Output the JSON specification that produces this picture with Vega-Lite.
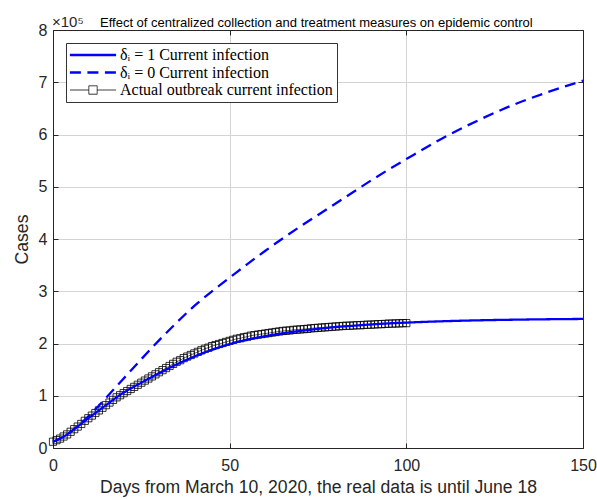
{
  "$schema": "https://vega.github.io/schema/vega-lite/v6.json",
  "width": 530,
  "height": 418,
  "autosize": "none",
  "padding": {"left": 53, "top": 30, "right": 14, "bottom": 52},
  "background": "white",
  "title": {
    "text": "Effect of centralized collection and treatment measures on epidemic control",
    "anchor": "start",
    "frame": "group",
    "fontSize": 13,
    "fontWeight": "normal",
    "font": "Liberation Sans",
    "color": "#000000",
    "offset": -14.5,
    "dx": 47
  },
  "datasets": {
    "model": [
      {"day": 0, "cases": 12000, "series": "δᵢ = 1 Current infection"},
      {"day": 2, "cases": 18000, "series": "δᵢ = 1 Current infection"},
      {"day": 4, "cases": 26000, "series": "δᵢ = 1 Current infection"},
      {"day": 6, "cases": 36000, "series": "δᵢ = 1 Current infection"},
      {"day": 8, "cases": 46500, "series": "δᵢ = 1 Current infection"},
      {"day": 10, "cases": 57000, "series": "δᵢ = 1 Current infection"},
      {"day": 12, "cases": 67000, "series": "δᵢ = 1 Current infection"},
      {"day": 15, "cases": 82000, "series": "δᵢ = 1 Current infection"},
      {"day": 18, "cases": 97000, "series": "δᵢ = 1 Current infection"},
      {"day": 20, "cases": 106000, "series": "δᵢ = 1 Current infection"},
      {"day": 25, "cases": 125000, "series": "δᵢ = 1 Current infection"},
      {"day": 30, "cases": 143000, "series": "δᵢ = 1 Current infection"},
      {"day": 35, "cases": 160000, "series": "δᵢ = 1 Current infection"},
      {"day": 40, "cases": 175000, "series": "δᵢ = 1 Current infection"},
      {"day": 45, "cases": 188000, "series": "δᵢ = 1 Current infection"},
      {"day": 50, "cases": 199000, "series": "δᵢ = 1 Current infection"},
      {"day": 55, "cases": 207500, "series": "δᵢ = 1 Current infection"},
      {"day": 60, "cases": 214000, "series": "δᵢ = 1 Current infection"},
      {"day": 65, "cases": 219500, "series": "δᵢ = 1 Current infection"},
      {"day": 70, "cases": 224000, "series": "δᵢ = 1 Current infection"},
      {"day": 75, "cases": 228000, "series": "δᵢ = 1 Current infection"},
      {"day": 80, "cases": 231500, "series": "δᵢ = 1 Current infection"},
      {"day": 85, "cases": 234000, "series": "δᵢ = 1 Current infection"},
      {"day": 90, "cases": 236500, "series": "δᵢ = 1 Current infection"},
      {"day": 95, "cases": 238500, "series": "δᵢ = 1 Current infection"},
      {"day": 100, "cases": 240000, "series": "δᵢ = 1 Current infection"},
      {"day": 110, "cases": 242500, "series": "δᵢ = 1 Current infection"},
      {"day": 120, "cases": 244300, "series": "δᵢ = 1 Current infection"},
      {"day": 130, "cases": 245500, "series": "δᵢ = 1 Current infection"},
      {"day": 140, "cases": 246400, "series": "δᵢ = 1 Current infection"},
      {"day": 150, "cases": 247000, "series": "δᵢ = 1 Current infection"},
      {"day": 0, "cases": 12000, "series": "δᵢ = 0 Current infection"},
      {"day": 2, "cases": 18000, "series": "δᵢ = 0 Current infection"},
      {"day": 4, "cases": 26000, "series": "δᵢ = 0 Current infection"},
      {"day": 6, "cases": 36500, "series": "δᵢ = 0 Current infection"},
      {"day": 8, "cases": 48000, "series": "δᵢ = 0 Current infection"},
      {"day": 10, "cases": 60000, "series": "δᵢ = 0 Current infection"},
      {"day": 12, "cases": 74000, "series": "δᵢ = 0 Current infection"},
      {"day": 15, "cases": 96000, "series": "δᵢ = 0 Current infection"},
      {"day": 20, "cases": 133000, "series": "δᵢ = 0 Current infection"},
      {"day": 25, "cases": 170000, "series": "δᵢ = 0 Current infection"},
      {"day": 30, "cases": 206000, "series": "δᵢ = 0 Current infection"},
      {"day": 35, "cases": 240000, "series": "δᵢ = 0 Current infection"},
      {"day": 40, "cases": 272000, "series": "δᵢ = 0 Current infection"},
      {"day": 45, "cases": 300000, "series": "δᵢ = 0 Current infection"},
      {"day": 50, "cases": 326000, "series": "δᵢ = 0 Current infection"},
      {"day": 55, "cases": 352000, "series": "δᵢ = 0 Current infection"},
      {"day": 60, "cases": 377000, "series": "δᵢ = 0 Current infection"},
      {"day": 65, "cases": 401000, "series": "δᵢ = 0 Current infection"},
      {"day": 70, "cases": 424000, "series": "δᵢ = 0 Current infection"},
      {"day": 75, "cases": 446000, "series": "δᵢ = 0 Current infection"},
      {"day": 80, "cases": 468000, "series": "δᵢ = 0 Current infection"},
      {"day": 85, "cases": 490000, "series": "δᵢ = 0 Current infection"},
      {"day": 90, "cases": 512000, "series": "δᵢ = 0 Current infection"},
      {"day": 95, "cases": 533000, "series": "δᵢ = 0 Current infection"},
      {"day": 100, "cases": 553000, "series": "δᵢ = 0 Current infection"},
      {"day": 110, "cases": 592000, "series": "δᵢ = 0 Current infection"},
      {"day": 120, "cases": 626000, "series": "δᵢ = 0 Current infection"},
      {"day": 130, "cases": 656000, "series": "δᵢ = 0 Current infection"},
      {"day": 140, "cases": 681000, "series": "δᵢ = 0 Current infection"},
      {"day": 150, "cases": 703000, "series": "δᵢ = 0 Current infection"}
    ],
    "actual": [
      {"day": 0, "cases": 12000, "series": "Actual outbreak current infection"},
      {"day": 1, "cases": 15000, "series": "Actual outbreak current infection"},
      {"day": 2, "cases": 18000, "series": "Actual outbreak current infection"},
      {"day": 3, "cases": 22000, "series": "Actual outbreak current infection"},
      {"day": 4, "cases": 26000, "series": "Actual outbreak current infection"},
      {"day": 5, "cases": 31000, "series": "Actual outbreak current infection"},
      {"day": 6, "cases": 36000, "series": "Actual outbreak current infection"},
      {"day": 7, "cases": 41000, "series": "Actual outbreak current infection"},
      {"day": 8, "cases": 46000, "series": "Actual outbreak current infection"},
      {"day": 9, "cases": 52000, "series": "Actual outbreak current infection"},
      {"day": 10, "cases": 57000, "series": "Actual outbreak current infection"},
      {"day": 11, "cases": 62000, "series": "Actual outbreak current infection"},
      {"day": 12, "cases": 67000, "series": "Actual outbreak current infection"},
      {"day": 13, "cases": 72000, "series": "Actual outbreak current infection"},
      {"day": 14, "cases": 77000, "series": "Actual outbreak current infection"},
      {"day": 15, "cases": 82000, "series": "Actual outbreak current infection"},
      {"day": 16, "cases": 87000, "series": "Actual outbreak current infection"},
      {"day": 17, "cases": 92000, "series": "Actual outbreak current infection"},
      {"day": 18, "cases": 97000, "series": "Actual outbreak current infection"},
      {"day": 19, "cases": 101000, "series": "Actual outbreak current infection"},
      {"day": 20, "cases": 105000, "series": "Actual outbreak current infection"},
      {"day": 21, "cases": 109000, "series": "Actual outbreak current infection"},
      {"day": 22, "cases": 113000, "series": "Actual outbreak current infection"},
      {"day": 23, "cases": 117000, "series": "Actual outbreak current infection"},
      {"day": 24, "cases": 121000, "series": "Actual outbreak current infection"},
      {"day": 25, "cases": 125000, "series": "Actual outbreak current infection"},
      {"day": 26, "cases": 129000, "series": "Actual outbreak current infection"},
      {"day": 27, "cases": 133000, "series": "Actual outbreak current infection"},
      {"day": 28, "cases": 137000, "series": "Actual outbreak current infection"},
      {"day": 29, "cases": 141000, "series": "Actual outbreak current infection"},
      {"day": 30, "cases": 145000, "series": "Actual outbreak current infection"},
      {"day": 31, "cases": 149000, "series": "Actual outbreak current infection"},
      {"day": 32, "cases": 153000, "series": "Actual outbreak current infection"},
      {"day": 33, "cases": 157000, "series": "Actual outbreak current infection"},
      {"day": 34, "cases": 161000, "series": "Actual outbreak current infection"},
      {"day": 35, "cases": 165000, "series": "Actual outbreak current infection"},
      {"day": 36, "cases": 168000, "series": "Actual outbreak current infection"},
      {"day": 37, "cases": 172000, "series": "Actual outbreak current infection"},
      {"day": 38, "cases": 175000, "series": "Actual outbreak current infection"},
      {"day": 39, "cases": 178000, "series": "Actual outbreak current infection"},
      {"day": 40, "cases": 181000, "series": "Actual outbreak current infection"},
      {"day": 41, "cases": 184000, "series": "Actual outbreak current infection"},
      {"day": 42, "cases": 187000, "series": "Actual outbreak current infection"},
      {"day": 43, "cases": 190000, "series": "Actual outbreak current infection"},
      {"day": 44, "cases": 192000, "series": "Actual outbreak current infection"},
      {"day": 45, "cases": 195000, "series": "Actual outbreak current infection"},
      {"day": 46, "cases": 197000, "series": "Actual outbreak current infection"},
      {"day": 47, "cases": 199000, "series": "Actual outbreak current infection"},
      {"day": 48, "cases": 201000, "series": "Actual outbreak current infection"},
      {"day": 49, "cases": 203000, "series": "Actual outbreak current infection"},
      {"day": 50, "cases": 205000, "series": "Actual outbreak current infection"},
      {"day": 51, "cases": 207000, "series": "Actual outbreak current infection"},
      {"day": 52, "cases": 209000, "series": "Actual outbreak current infection"},
      {"day": 53, "cases": 210000, "series": "Actual outbreak current infection"},
      {"day": 54, "cases": 212000, "series": "Actual outbreak current infection"},
      {"day": 55, "cases": 213000, "series": "Actual outbreak current infection"},
      {"day": 56, "cases": 215000, "series": "Actual outbreak current infection"},
      {"day": 57, "cases": 216000, "series": "Actual outbreak current infection"},
      {"day": 58, "cases": 217000, "series": "Actual outbreak current infection"},
      {"day": 59, "cases": 218000, "series": "Actual outbreak current infection"},
      {"day": 60, "cases": 219000, "series": "Actual outbreak current infection"},
      {"day": 61, "cases": 220000, "series": "Actual outbreak current infection"},
      {"day": 62, "cases": 221000, "series": "Actual outbreak current infection"},
      {"day": 63, "cases": 222000, "series": "Actual outbreak current infection"},
      {"day": 64, "cases": 223000, "series": "Actual outbreak current infection"},
      {"day": 65, "cases": 224000, "series": "Actual outbreak current infection"},
      {"day": 66, "cases": 224500, "series": "Actual outbreak current infection"},
      {"day": 67, "cases": 225000, "series": "Actual outbreak current infection"},
      {"day": 68, "cases": 226000, "series": "Actual outbreak current infection"},
      {"day": 69, "cases": 226500, "series": "Actual outbreak current infection"},
      {"day": 70, "cases": 227000, "series": "Actual outbreak current infection"},
      {"day": 71, "cases": 227500, "series": "Actual outbreak current infection"},
      {"day": 72, "cases": 228000, "series": "Actual outbreak current infection"},
      {"day": 73, "cases": 229000, "series": "Actual outbreak current infection"},
      {"day": 74, "cases": 229500, "series": "Actual outbreak current infection"},
      {"day": 75, "cases": 230000, "series": "Actual outbreak current infection"},
      {"day": 76, "cases": 230500, "series": "Actual outbreak current infection"},
      {"day": 77, "cases": 231000, "series": "Actual outbreak current infection"},
      {"day": 78, "cases": 231500, "series": "Actual outbreak current infection"},
      {"day": 79, "cases": 232000, "series": "Actual outbreak current infection"},
      {"day": 80, "cases": 232500, "series": "Actual outbreak current infection"},
      {"day": 81, "cases": 233000, "series": "Actual outbreak current infection"},
      {"day": 82, "cases": 233500, "series": "Actual outbreak current infection"},
      {"day": 83, "cases": 234000, "series": "Actual outbreak current infection"},
      {"day": 84, "cases": 234000, "series": "Actual outbreak current infection"},
      {"day": 85, "cases": 234500, "series": "Actual outbreak current infection"},
      {"day": 86, "cases": 235000, "series": "Actual outbreak current infection"},
      {"day": 87, "cases": 235000, "series": "Actual outbreak current infection"},
      {"day": 88, "cases": 235500, "series": "Actual outbreak current infection"},
      {"day": 89, "cases": 236000, "series": "Actual outbreak current infection"},
      {"day": 90, "cases": 236000, "series": "Actual outbreak current infection"},
      {"day": 91, "cases": 236500, "series": "Actual outbreak current infection"},
      {"day": 92, "cases": 237000, "series": "Actual outbreak current infection"},
      {"day": 93, "cases": 237000, "series": "Actual outbreak current infection"},
      {"day": 94, "cases": 237500, "series": "Actual outbreak current infection"},
      {"day": 95, "cases": 238000, "series": "Actual outbreak current infection"},
      {"day": 96, "cases": 238000, "series": "Actual outbreak current infection"},
      {"day": 97, "cases": 238500, "series": "Actual outbreak current infection"},
      {"day": 98, "cases": 238500, "series": "Actual outbreak current infection"},
      {"day": 99, "cases": 239000, "series": "Actual outbreak current infection"},
      {"day": 100, "cases": 239000, "series": "Actual outbreak current infection"}
    ]
  },
  "layer": [
    {
      "data": {"name": "actual"},
      "mark": {"type": "line", "stroke": "#000000", "strokeWidth": 0.6},
      "encoding": {
        "x": {"field": "day", "type": "quantitative", "scale": {"domain": [0, 150], "nice": false}, "axis": null},
        "y": {"field": "cases", "type": "quantitative", "scale": {"domain": [0, 800000], "nice": false}, "axis": null},
        "color": {"field": "series", "type": "nominal"}
      }
    },
    {
      "data": {"name": "actual"},
      "mark": {"type": "point", "shape": "square", "filled": false, "size": 52, "strokeWidth": 0.8, "opacity": 1},
      "encoding": {
        "x": {"field": "day", "type": "quantitative", "axis": {"orient": "top", "labels": false, "title": null, "grid": true, "domain": true, "values": [0, 50, 100, 150]}},
        "y": {"field": "cases", "type": "quantitative", "axis": {"orient": "right", "labels": false, "title": null, "grid": true, "domain": true, "values": [0, 100000, 200000, 300000, 400000, 500000, 600000, 700000, 800000]}},
        "color": {"field": "series", "type": "nominal"}
      }
    },
    {
      "data": {"name": "model"},
      "mark": {"type": "line", "strokeWidth": 2.3, "interpolate": "monotone"},
      "encoding": {
        "x": {"field": "day", "type": "quantitative", "title": "Days from March 10, 2020, the real data is until June 18", "axis": {"orient": "bottom", "values": [0, 50, 100, 150], "grid": false}},
        "y": {"field": "cases", "type": "quantitative", "title": "Cases", "axis": {"orient": "left", "values": [0, 100000, 200000, 300000, 400000, 500000, 600000, 700000, 800000], "labelExpr": "format(datum.value / 100000, 'd')", "grid": false}},
        "color": {
          "field": "series",
          "type": "nominal",
          "scale": {
            "domain": ["δᵢ = 1 Current infection", "δᵢ = 0 Current infection", "Actual outbreak current infection"],
            "range": ["#0000ff", "#0000ff", "#000000"]
          },
          "legend": {
            "title": null,
            "encoding": {
              "symbols": {
                "shape": {"value": {"expr": "datum.value === 'Actual outbreak current infection' ? 'M-3.3,0H-0.6M0.6,0H3.3M-0.6,-0.6H0.6V0.6H-0.6Z' : 'M-3.3,0H3.3'"}},
                "strokeWidth": {"value": {"expr": "datum.value === 'Actual outbreak current infection' ? 0.8 : 2.3"}}
              }
            }
          }
        },
        "strokeDash": {
          "field": "series",
          "type": "nominal",
          "scale": {
            "domain": ["δᵢ = 1 Current infection", "δᵢ = 0 Current infection", "Actual outbreak current infection"],
            "range": [[1, 0], [11, 6.5], [1, 0]]
          },
          "legend": {"title": null}
        }
      }
    },
    {
      "data": {"values": [{}]},
      "mark": {"type": "text", "text": "×10⁵", "align": "left", "baseline": "alphabetic", "dy": -3, "dx": -1, "fontSize": 15, "font": "Liberation Sans", "color": "#262626"},
      "encoding": {
        "x": {"datum": 0, "type": "quantitative", "axis": null},
        "y": {"datum": 800000, "type": "quantitative", "axis": null}
      }
    }
  ],
  "resolve": {"axis": {"x": "independent", "y": "independent"}},
  "config": {
    "view": {"stroke": null},
    "font": "Liberation Sans",
    "axis": {
      "domainColor": "#262626",
      "domainWidth": 1,
      "tickColor": "#262626",
      "tickSize": -5,
      "tickWidth": 1,
      "labelFont": "Liberation Sans",
      "labelFontSize": 16,
      "labelColor": "#262626",
      "titleFont": "Liberation Sans",
      "titleFontSize": 17.6,
      "titleFontWeight": "normal",
      "titleColor": "#262626",
      "gridColor": "#d4d4d4",
      "gridOpacity": 1,
      "gridWidth": 1,
      "labelFlush": false,
      "labelOverlap": false
    },
    "axisX": {"labelPadding": 14, "titlePadding": 5},
    "axisY": {"labelPadding": 11, "titlePadding": 7},
    "legend": {
      "orient": "top-left",
      "offset": 13,
      "padding": 4,
      "fillColor": "#ffffff",
      "strokeColor": "#333333",
      "strokeWidth": 1,
      "cornerRadius": 0,
      "labelFont": "Liberation Serif",
      "labelFontSize": 16,
      "labelColor": "#000000",
      "labelLimit": 400,
      "symbolType": "M-3.3,0H3.3",
      "symbolSize": 196,
      "symbolStrokeWidth": 2.3,
      "symbolOffset": 15,
      "labelOffset": 19,
      "rowPadding": 1.5
    }
  }
}
